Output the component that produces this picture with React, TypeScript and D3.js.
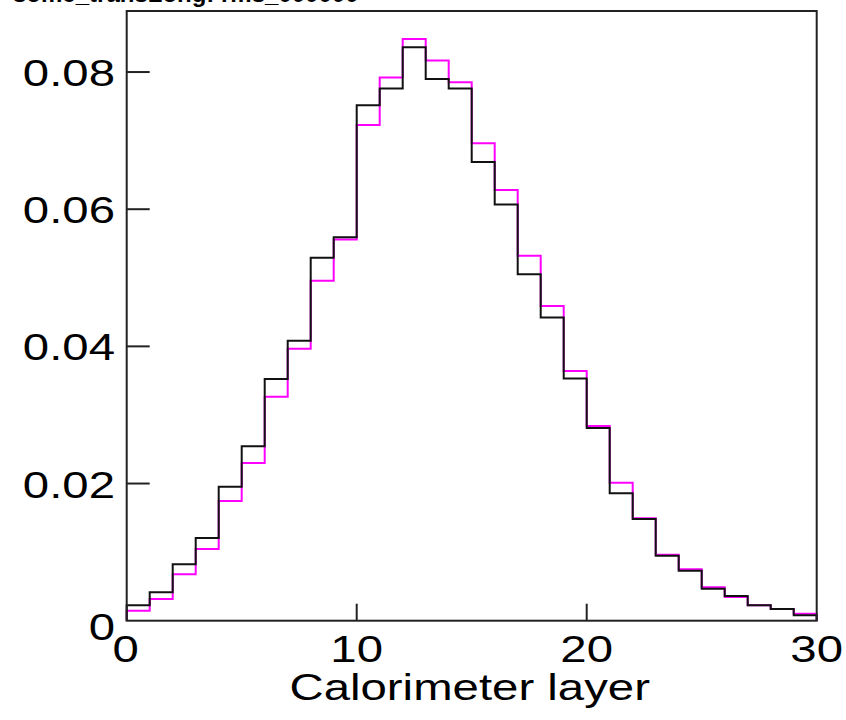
import React from "react";
import * as d3 from "d3";

// Bin contents (30 bins, layer 0..29)
const layers: number[] = d3.range(30);
const blackValues: number[] = [
  0.00225, 0.00414, 0.00822, 0.01206, 0.01954, 0.02543, 0.03524, 0.04082, 0.05292, 0.0559,
  0.07514, 0.0776, 0.0836, 0.079, 0.0776, 0.0669, 0.0607, 0.0505, 0.0442, 0.0353,
  0.0281, 0.0186, 0.01483, 0.00948, 0.00729, 0.00467, 0.0036, 0.00225, 0.00171, 0.00079,
];
const magentaValues: number[] = [
  0.00146, 0.00316, 0.00676, 0.01045, 0.01745, 0.02299, 0.03266, 0.03966, 0.04957, 0.0556,
  0.07227, 0.0792, 0.0848, 0.0817, 0.0785, 0.0696, 0.0628, 0.0532, 0.0459, 0.0364,
  0.0284, 0.0201, 0.01493, 0.00962, 0.00749, 0.00487, 0.00346, 0.00225, 0.00171, 0.00102,
];
const yTicks: number[] = [0, 0.02, 0.04, 0.06, 0.08];
const yTickLabels: string[] = ["0", "0.02", "0.04", "0.06", "0.08"];
const xTicks: number[] = [0, 10, 20, 30];
const xTickLabels: string[] = ["0", "10", "20", "30"];
const xTitle = "Calorimeter layer";
const title = "some_transLong: rms_000000";

const W = 846;
const H = 720;
const left = 126.7;
const right = 816.7;
const top = 11;
const bottom = 620.7;
const SX = 1.28;
const FONT = "'Liberation Sans', Arial, Helvetica, sans-serif";

export default function App() {
  const x = d3.scaleLinear().domain([0, 30]).range([left, right]);
  const y = d3.scaleLinear().domain([0, 0.0889]).range([bottom, top]);

  const stepPath = (vals: number[]) => {
    const pts: [number, number][] = [[0, 0]];
    layers.forEach((l, i) => pts.push([l, vals[i]]));
    pts.push([30, vals[vals.length - 1]]);
    pts.push([30, 0]);
    const line = d3
      .line<[number, number]>()
      .x((d) => x(d[0]))
      .y((d) => y(d[1]))
      .curve(d3.curveStepAfter);
    return line(pts) || "";
  };

  return (
    <svg
      width={W}
      height={H}
      style={{ position: "absolute", left: 0, top: 0, background: "#fff" }}
    >
      <rect x={0} y={0} width={W} height={H} fill="#fff" />
      {/* title, cropped at the top edge as in the original */}
      <text
        x={13}
        y={1.5}
        fontFamily={FONT}
        fontWeight="bold"
        fontSize={24}
        fill="#000"
      >
        {title}
      </text>

      {/* histograms */}
      <path d={stepPath(magentaValues)} fill="none" stroke="#ff00ff" strokeWidth={2} />
      <path d={stepPath(blackValues)} fill="none" stroke="#111" strokeWidth={2} />

      {/* frame */}
      <rect
        x={left}
        y={top}
        width={right - left}
        height={bottom - top}
        fill="none"
        stroke="#222"
        strokeWidth={2}
      />

      {/* y ticks */}
      {yTicks.map((t, i) => (
        <g key={"y" + i}>
          {t > 0 && (
            <line x1={left} x2={left + 23} y1={y(t)} y2={y(t)} stroke="#222" strokeWidth={2} />
          )}
          <text
            transform={`translate(115,${y(t) + (t === 0 ? 19 : 14)}) scale(${SX},1)`}
            textAnchor="end"
            fontFamily={FONT}
            fontSize={37}
            fill="#000"
          >
            {yTickLabels[i]}
          </text>
        </g>
      ))}

      {/* x ticks */}
      {xTicks.map((t, i) => (
        <g key={"x" + i}>
          {t > 0 && t < 30 && (
            <line x1={x(t)} x2={x(t)} y1={bottom} y2={bottom - 17} stroke="#222" strokeWidth={2} />
          )}
          <text
            transform={`translate(${x(t) + (t === 0 ? -1 : 0)},${bottom + 41}) scale(${SX},1)`}
            textAnchor="middle"
            fontFamily={FONT}
            fontSize={37}
            fill="#000"
          >
            {xTickLabels[i]}
          </text>
        </g>
      ))}

      {/* x title */}
      <text
        transform={`translate(${(left + right) / 2 - 2},700) scale(${SX},1)`}
        textAnchor="middle"
        fontFamily={FONT}
        fontSize={37}
        fill="#000"
      >
        {xTitle}
      </text>
    </svg>
  );
}
